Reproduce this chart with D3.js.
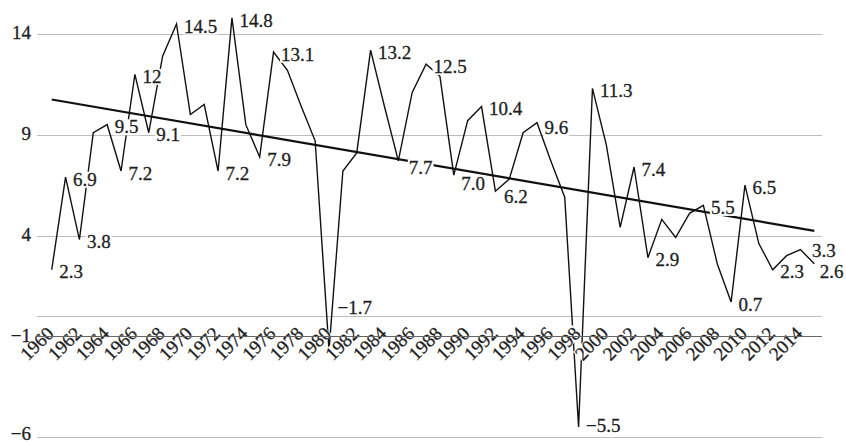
<!DOCTYPE html>
<html>
<head>
<meta charset="utf-8">
<script src="https://cdn.jsdelivr.net/npm/d3@7"></script>
<style>
  html, body { margin: 0; padding: 0; background: #fff; }
  svg { display: block; }
</style>
</head>
<body>
<svg id="chart" width="846" height="443"></svg>
<script>
// ---- data ----
const years = d3.range(1960, 2016);
const values = [
  2.3, 6.9, 3.8, 9.1, 9.5, 7.2, 12.0, 9.1, 12.9, 14.5,
  10.0, 10.5, 7.2, 14.8, 9.5, 7.9, 13.1, 12.2, 10.4, 8.7,
  -1.7, 7.2, 8.1, 13.2, 10.4, 7.7, 11.1, 12.5, 11.9, 7.0,
  9.7, 10.4, 6.2, 6.8, 9.1, 9.6, 7.7, 5.9, -5.5, 11.3,
  8.5, 4.4, 7.4, 2.9, 4.8, 3.9, 5.1, 5.5, 2.6, 0.7,
  6.5, 3.6, 2.3, 3.0, 3.3, 2.6
];
const labelYears = [1960, 1961, 1962, 1964, 1965, 1966, 1967, 1969, 1972, 1973, 1975, 1976,
  1980, 1983, 1985, 1987, 1989, 1991, 1992, 1995, 1998, 1999, 2002, 2003, 2007, 2009,
  2010, 2012, 2014, 2015];
const labelTexts = ["2.3", "6.9", "3.8", "9.5", "7.2", "12", "9.1", "14.5", "7.2", "14.8", "7.9", "13.1",
  "\u22121.7", "13.2", "7.7", "12.5", "7.0", "10.4", "6.2", "9.6", "\u22125.5", "11.3", "7.4", "2.9", "5.5", "0.7",
  "6.5", "2.3", "3.3", "2.6"];
const trendYears = [1960, 2015];
const trendValues = [10.75, 4.23];
const yTicks = [-6, -1, 4, 9, 14];
const yTickLabels = ["\u22126", "\u22121", "4", "9", "14"];
const extraGrid = [0];
const xTickYears = years.filter(y => y % 2 === 0);

// label placement tweaks (pixels), by label index
const labelShift = {
  12: [1, -45],   // −1.7 placed above the axis
  14: [3, 4],     // 7.7
  16: [0, 6],     // 7.0
  18: [1, 3],     // 6.2
  19: [0, 3],     // 9.6
  20: [0, -4],    // −5.5
  28: [4, -1],    // 3.3
  29: [-2, 6]     // 2.6
};

// ---- layout ----
const FONT = "Liberation Serif";
const svg = d3.select("#chart");
const gridLeft = 37, gridRight = 822;
const x = d3.scalePoint().domain(years).range([51.7, 814.3]);
const y = d3.scaleLinear().domain([-6, 14]).range([437, 34]);
const FS = 19;
const TXT = "#1e1e1e";

function styleText(sel) {
  return sel.attr("font-family", FONT)
    .attr("font-size", FS)
    .attr("fill", TXT)
    .attr("stroke", TXT)
    .attr("stroke-width", 0.3);
}

// gridlines
svg.append("g").selectAll("line")
  .data(yTicks.filter(v => v !== -1).concat(extraGrid))
  .join("line")
  .attr("x1", gridLeft).attr("x2", gridRight)
  .attr("y1", d => Math.round(y(d)) + 0.5).attr("y2", d => Math.round(y(d)) + 0.5)
  .attr("stroke", "#bdbdbd").attr("stroke-width", 1.2);

// y tick labels
svg.append("g").selectAll("text")
  .data(yTicks)
  .join("text")
  .attr("x", 31)
  .attr("y", d => Math.min(y(d) - 1, 434))
  .attr("dy", "0.33em")
  .attr("text-anchor", "end")
  .call(styleText)
  .text((d, i) => yTickLabels[i]);

// series line
const data = years.map((yr, i) => ({ yr, v: values[i] }));
svg.append("path")
  .datum(data)
  .attr("fill", "none")
  .attr("stroke", "#111")
  .attr("stroke-width", 1.4)
  .attr("d", d3.line().x(d => x(d.yr)).y(d => y(d.v)));

// trend line
svg.append("path")
  .datum(trendYears.map((yr, i) => ({ yr, v: trendValues[i] })))
  .attr("fill", "none")
  .attr("stroke", "#111")
  .attr("stroke-width", 2.2)
  .attr("d", d3.line().x(d => x(d.yr)).y(d => y(d.v)));

// data labels with white background
const lg = svg.append("g");
labelYears.forEach((yr, i) => {
  const v = values[years.indexOf(yr)];
  const sh = labelShift[i] || [0, 0];
  const g = lg.append("g");
  const t = g.append("text")
    .attr("x", x(yr) + 7.5 + sh[0])
    .attr("y", y(v) + 2 + sh[1])
    .attr("dy", "0.35em")
    .call(styleText)
    .text(labelTexts[i]);
  const bb = t.node().getBBox();
  g.insert("rect", "text")
    .attr("x", bb.x - 1).attr("y", bb.y + 3)
    .attr("width", bb.width + 2).attr("height", bb.height - 5)
    .attr("fill", "#fff");
});

// x tick labels (rotated), with white background
const xg = svg.append("g");
xTickYears.forEach(yr => {
  const g = xg.append("g")
    .attr("transform", `translate(${x(yr) - 1.5},${330}) rotate(-45)`);
  const t = g.append("text")
    .attr("x", 0).attr("y", 0)
    .attr("dy", "0.35em")
    .attr("text-anchor", "end")
    .call(styleText)
    .text(yr);
  const bb = t.node().getBBox();
  g.insert("rect", "text")
    .attr("x", bb.x).attr("y", -7)
    .attr("width", bb.width).attr("height", 14)
    .attr("fill", "#fff");
});

// axis line at -1 (on top)
svg.append("line")
  .attr("x1", gridLeft).attr("x2", gridRight)
  .attr("y1", Math.round(y(-1)) + 0.5).attr("y2", Math.round(y(-1)) + 0.5)
  .attr("stroke", "#666").attr("stroke-width", 1);
</script>
</body>
</html>
